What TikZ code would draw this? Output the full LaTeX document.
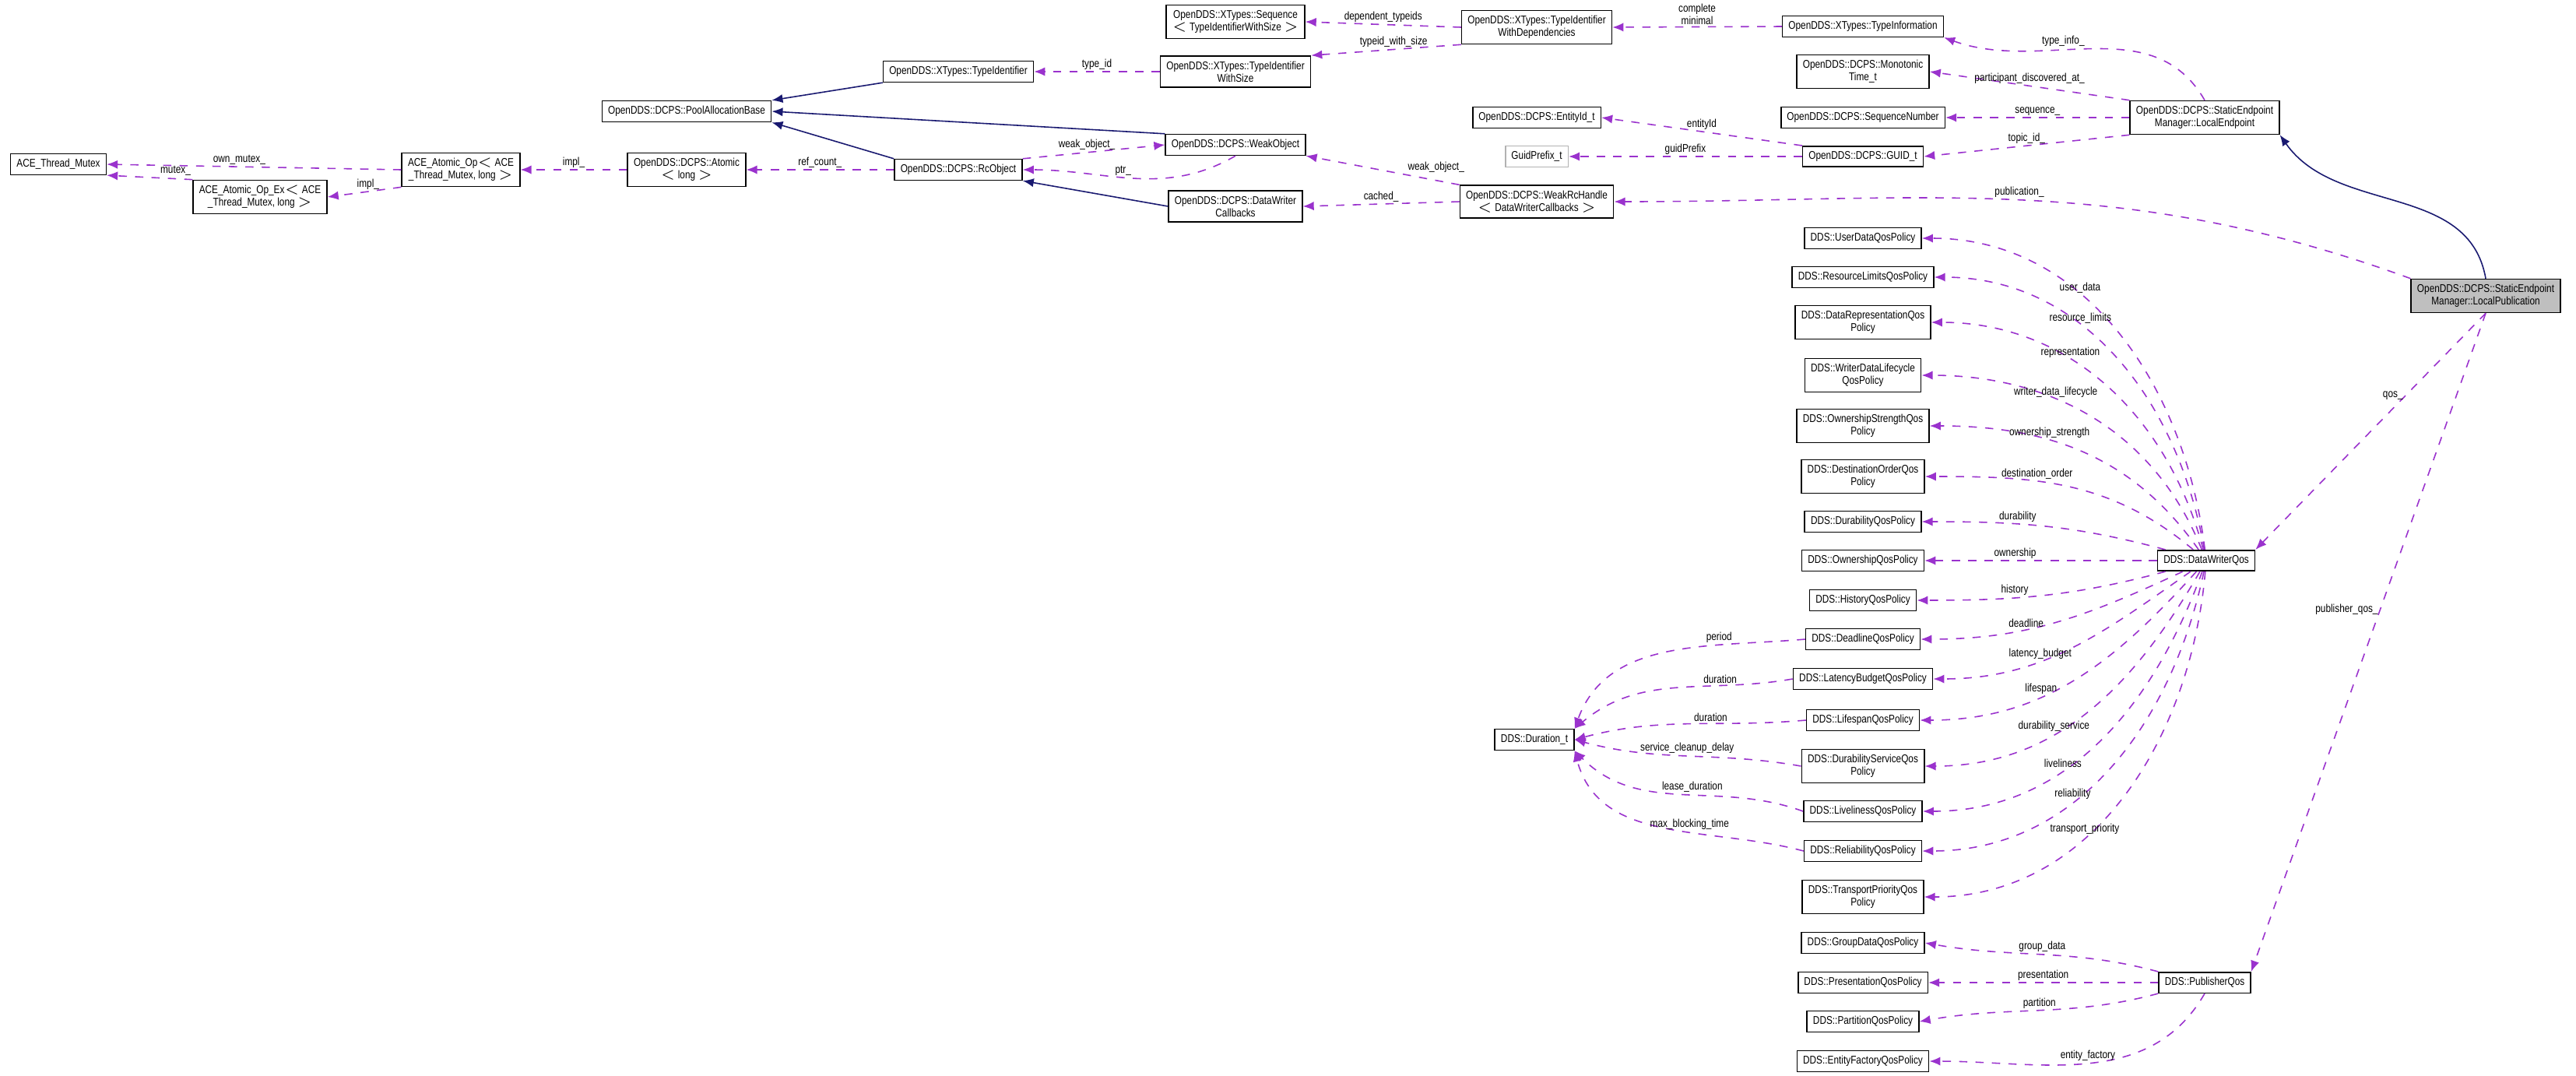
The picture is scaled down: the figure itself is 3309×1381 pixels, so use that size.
\documentclass[tikz,border=0pt]{standalone}
\usepackage{fontspec}
\setmainfont{Liberation Sans}[FakeStretch=0.82]
\usetikzlibrary{arrows.meta}

\definecolor{usecol}{HTML}{9A32CD}
\definecolor{inhcol}{HTML}{191970}

\begin{document}
\begin{tikzpicture}[x=0.01cm,y=0.01cm,font=\fontsize{4.1}{4.6}\selectfont]
\tikzstyle{cls}=[rectangle,draw=black,line width=0.45pt,fill=white,align=center,inner xsep=2.2pt,inner ysep=1.9pt,minimum height=0.25cm]
\tikzstyle{grey}=[cls,draw=black!30]
\tikzstyle{inh}=[draw=inhcol,line width=0.45pt,-{Latex[length=4pt,width=3.2pt]}]
\tikzstyle{use}=[draw=usecol,dashed,line width=0.45pt,-{Latex[length=4pt,width=3.2pt]}]
\tikzstyle{lbl}=[fill=none,inner sep=0.6pt,text=black,align=center]
\useasboundingbox (0,0) rectangle (3309,-1381);

% left part
\node[cls](mutex) at (75,-211) {ACE\_Thread\_Mutex};
\node[cls](opex) at (334,-253) {ACE\_Atomic\_Op\_Ex$<$ ACE\\\_Thread\_Mutex, long $>$};
\node[cls](op) at (592,-218) {ACE\_Atomic\_Op$<$ ACE\\\_Thread\_Mutex, long $>$};
\node[cls](atomic) at (882,-218) {OpenDDS::DCPS::Atomic\\$<$ long $>$};
\node[cls](pool) at (882,-143) {OpenDDS::DCPS::PoolAllocationBase};
\node[cls](typeid) at (1231,-92) {OpenDDS::XTypes::TypeIdentifier};
\node[cls](rcobj) at (1231,-218) {OpenDDS::DCPS::RcObject};
\node[cls](seq) at (1587,-28) {OpenDDS::XTypes::Sequence\\$<$ TypeIdentifierWithSize $>$};
\node[cls](tiws) at (1587,-92) {OpenDDS::XTypes::TypeIdentifier\\WithSize};
\node[cls](weak) at (1587,-186) {OpenDDS::DCPS::WeakObject};
\node[cls](dwcb) at (1587,-265) {OpenDDS::DCPS::DataWriter\\Callbacks};
\node[cls](tiwd) at (1974,-35) {OpenDDS::XTypes::TypeIdentifier\\WithDependencies};
\node[cls](entity) at (1974,-151) {OpenDDS::DCPS::EntityId\_t};
\node[grey](prefix) at (1974,-201) {GuidPrefix\_t};
\node[cls](handle) at (1974,-259) {OpenDDS::DCPS::WeakRcHandle\\$<$ DataWriterCallbacks $>$};
\node[cls](duration) at (1971,-950) {DDS::Duration\_t};

% middle column
\node[cls](tinfo) at (2393,-34) {OpenDDS::XTypes::TypeInformation};
\node[cls](mono) at (2393,-92) {OpenDDS::DCPS::Monotonic\\Time\_t};
\node[cls](seqnum) at (2393,-151) {OpenDDS::DCPS::SequenceNumber};
\node[cls](guid) at (2393,-201) {OpenDDS::DCPS::GUID\_t};
\node[cls](ud) at (2393,-306) {DDS::UserDataQosPolicy};
\node[cls](rl) at (2393,-356) {DDS::ResourceLimitsQosPolicy};
\node[cls](rep) at (2393,-414) {DDS::DataRepresentationQos\\Policy};
\node[cls](wdl) at (2393,-482) {DDS::WriterDataLifecycle\\QosPolicy};
\node[cls](os) at (2393,-547) {DDS::OwnershipStrengthQos\\Policy};
\node[cls](do) at (2393,-612) {DDS::DestinationOrderQos\\Policy};
\node[cls](dur) at (2393,-670) {DDS::DurabilityQosPolicy};
\node[cls](own) at (2393,-720) {DDS::OwnershipQosPolicy};
\node[cls](hist) at (2393,-771) {DDS::HistoryQosPolicy};
\node[cls](dl) at (2393,-821) {DDS::DeadlineQosPolicy};
\node[cls](lb) at (2393,-872) {DDS::LatencyBudgetQosPolicy};
\node[cls](ls) at (2393,-925) {DDS::LifespanQosPolicy};
\node[cls](ds) at (2393,-984) {DDS::DurabilityServiceQos\\Policy};
\node[cls](liv) at (2393,-1042) {DDS::LivelinessQosPolicy};
\node[cls](rel) at (2393,-1093) {DDS::ReliabilityQosPolicy};
\node[cls](tp) at (2393,-1152) {DDS::TransportPriorityQos\\Policy};
\node[cls](gd) at (2393,-1211) {DDS::GroupDataQosPolicy};
\node[cls](pres) at (2393,-1262) {DDS::PresentationQosPolicy};
\node[cls](part) at (2393,-1312) {DDS::PartitionQosPolicy};
\node[cls](ef) at (2393,-1363) {DDS::EntityFactoryQosPolicy};

% right part
\node[cls](endpoint) at (2832,-151) {OpenDDS::DCPS::StaticEndpoint\\Manager::LocalEndpoint};
\node[cls](dwqos) at (2834,-720) {DDS::DataWriterQos};
\node[cls](pubqos) at (2832,-1262) {DDS::PublisherQos};
\node[cls,fill=black!25](localpub) at (3193,-380) {OpenDDS::DCPS::StaticEndpoint\\Manager::LocalPublication};

% inheritance
\draw[inh] (typeid.south west) -- (pool.north east);
\draw[inh] (weak.north west) -- (pool.east);
\draw[inh] (rcobj.north west) -- (pool.south east);
\draw[inh] (dwcb.west) -- (rcobj.south east);
\draw[inh] (localpub.north) to[out=100,in=-55] (endpoint.south east);

% members
\draw[use] (op.west) -- node[lbl,above,pos=0.55]{own\_mutex\_} (mutex.east);
\draw[use] (opex.north west) -- node[lbl,above right,pos=0.4]{mutex\_} (mutex.south east);
\draw[use] (op.south west) -- node[lbl,above,pos=0.45]{impl\_} (opex.east);
\draw[use] (atomic.west) -- node[lbl,above]{impl\_} (op.east);
\draw[use] (rcobj.west) -- node[lbl,above]{ref\_count\_} (atomic.east);
\draw[use] (rcobj.north east) -- node[lbl,above,pos=0.45]{weak\_object\_} (weak.west);
\draw[use] (weak.south) to[out=-150,in=0] node[lbl,above,pos=0.55]{ptr\_} (rcobj.east);
\draw[use] (tiws.west) -- node[lbl,above]{type\_id} (typeid.east);
\draw[use] (tiwd.west) -- node[lbl,above]{dependent\_typeids} (seq.east);
\draw[use] (tiwd.south west) -- node[lbl,above,pos=0.45]{typeid\_with\_size} (tiws.north east);
\draw[use] (tinfo.west) -- node[lbl,above]{complete\\minimal} (tiwd.east);
\draw[use] (handle.north west) -- node[lbl,above right,pos=0.35]{weak\_object\_} (weak.south east);
\draw[use] (handle.west) -- node[lbl,above]{cached\_} (dwcb.east);
\draw[use] (guid.north west) -- node[lbl,above,pos=0.5]{entityId} (entity.east);
\draw[use] (guid.west) -- node[lbl,above]{guidPrefix} (prefix.east);
\draw[use] (endpoint.north) to[out=120,in=-20] node[lbl,above,pos=0.6]{type\_info\_} (tinfo.south east);
\draw[use] (endpoint.north west) -- node[lbl,above,pos=0.5]{participant\_discovered\_at\_} (mono.east);
\draw[use] (endpoint.west) -- node[lbl,above]{sequence\_} (seqnum.east);
\draw[use] (endpoint.south west) -- node[lbl,above,pos=0.5]{topic\_id\_} (guid.east);
\draw[use] (localpub.north west) to[out=160,in=0] node[lbl,above,pos=0.5]{publication\_} (handle.east);
\draw[use] (localpub.south) -- node[lbl,left,pos=0.35]{qos\_} (dwqos.north east);
\draw[use] (localpub.south) -- node[lbl,left,pos=0.45]{publisher\_qos\_} (pubqos.north east);

% DataWriterQos members
\foreach \tgt/\txt/\ang in {ud/user\_data/97, rl/resource\_limits/100, rep/representation/105,
  wdl/writer\_data\_lifecycle/112, os/ownership\_strength/125, do/destination\_order/140,
  dur/durability/165, own/ownership/180, hist/history/195, dl/deadline/205,
  lb/latency\_budget/215, ls/lifespan/228, ds/durability\_service/240,
  liv/liveliness/250, rel/reliability/258, tp/transport\_priority/265}
  \draw[use] (dwqos) to[out=\ang,in=0] node[lbl,above,pos=0.62]{\txt} (\tgt.east);

% Duration_t members
\draw[use] (dl.west) to[out=185,in=70] node[lbl,above,pos=0.3]{period} (duration.north east);
\draw[use] (lb.west) to[out=190,in=40] node[lbl,above,pos=0.3]{duration} (duration.north east);
\draw[use] (ls.west) to[out=185,in=15] node[lbl,above,pos=0.4]{duration} (duration.east);
\draw[use] (ds.west) to[out=170,in=-15] node[lbl,above,pos=0.5]{service\_cleanup\_delay} (duration.east);
\draw[use] (liv.west) to[out=160,in=-45] node[lbl,above,pos=0.45]{lease\_duration} (duration.south east);
\draw[use] (rel.west) to[out=165,in=-75] node[lbl,above,pos=0.4]{max\_blocking\_time} (duration.south east);

% PublisherQos members
\draw[use] (pubqos.north west) to[out=165,in=-10] node[lbl,above,pos=0.5]{group\_data} (gd.east);
\draw[use] (pubqos.west) -- node[lbl,above]{presentation} (pres.east);
\draw[use] (pubqos.south west) to[out=195,in=10] node[lbl,above,pos=0.5]{partition} (part.east);
\draw[use] (pubqos.south) to[out=240,in=0] node[lbl,above,pos=0.5]{entity\_factory} (ef.east);
\end{tikzpicture}
\end{document}
